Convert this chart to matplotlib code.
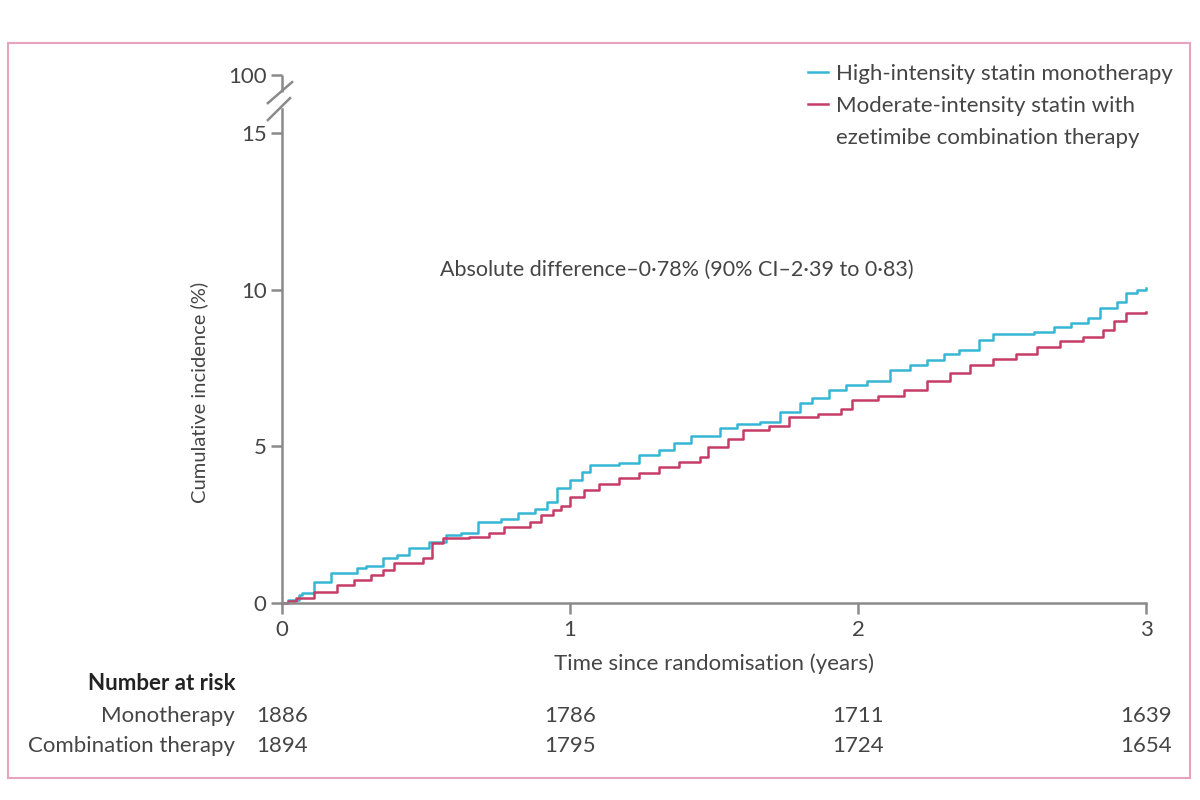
import matplotlib
matplotlib.use("Agg")
import matplotlib.pyplot as plt
from matplotlib.lines import Line2D
from matplotlib.patches import Rectangle
from matplotlib.transforms import blended_transform_factory

plt.rcParams['font.family'] = ['Lato', 'DejaVu Sans']

# ---- data ----
mono_t = [0, 0.02, 0.06, 0.07, 0.11, 0.17, 0.26, 0.29, 0.35, 0.40, 0.44, 0.51, 0.57, 0.62, 0.68,
          0.76, 0.82, 0.88, 0.92, 0.955, 1.0, 1.04, 1.07, 1.17, 1.24, 1.31, 1.36, 1.42, 1.52,
          1.58, 1.66, 1.73, 1.80, 1.84, 1.90, 1.96, 2.03, 2.11, 2.18, 2.24, 2.30, 2.35, 2.42,
          2.47, 2.61, 2.68, 2.74, 2.80, 2.84, 2.90, 2.93, 2.97, 3.0]
mono_y = [0, 0.1, 0.26, 0.32, 0.67, 0.95, 1.12, 1.2, 1.44, 1.55, 1.75, 1.95, 2.17, 2.25, 2.58,
          2.7, 2.87, 3.0, 3.22, 3.67, 3.92, 4.2, 4.4, 4.47, 4.72, 4.88, 5.1, 5.33, 5.6,
          5.7, 5.78, 6.1, 6.38, 6.54, 6.8, 6.95, 7.1, 7.43, 7.6, 7.75, 7.95, 8.07, 8.4,
          8.6, 8.64, 8.8, 8.93, 9.1, 9.4, 9.6, 9.9, 10.0, 10.05]
comb_t = [0, 0.02, 0.05, 0.11, 0.19, 0.25, 0.31, 0.35, 0.39, 0.49, 0.52, 0.56, 0.65, 0.72, 0.77,
          0.86, 0.90, 0.94, 0.97, 1.0, 1.05, 1.10, 1.17, 1.24, 1.31, 1.38, 1.45, 1.48, 1.55,
          1.60, 1.69, 1.76, 1.86, 1.94, 1.98, 2.07, 2.16, 2.24, 2.32, 2.39, 2.47, 2.55, 2.62,
          2.70, 2.78, 2.85, 2.89, 2.93, 3.0]
comb_y = [0, 0.07, 0.15, 0.35, 0.57, 0.75, 0.9, 1.05, 1.28, 1.44, 1.91, 2.07, 2.1, 2.25, 2.42,
          2.58, 2.8, 2.97, 3.1, 3.4, 3.6, 3.8, 4.0, 4.15, 4.34, 4.5, 4.66, 4.98, 5.25,
          5.52, 5.65, 5.93, 6.05, 6.2, 6.48, 6.6, 6.8, 7.1, 7.35, 7.6, 7.8, 7.95, 8.17,
          8.35, 8.5, 8.7, 9.0, 9.25, 9.28]

x_ticks = [0, 1, 2, 3]
y_ticks = [0, 5, 10, 15]
risk_times = [0, 1, 2, 3]
risk_mono = [1886, 1786, 1711, 1639]
risk_comb = [1894, 1795, 1724, 1654]

label_mono = "High-intensity statin monotherapy"
label_comb_1 = "Moderate-intensity statin with"
label_comb_2 = "ezetimibe combination therapy"
annotation = "Absolute difference\u20130\u00b778% (90% CI\u20132\u00b739 to 0\u00b783)"

blue = "#35b6d4"
red = "#c73c66"
gray_txt = "#454545"
spine_col = "#8a8a8a"
FS = 16

Y_TOP = 16.84   # position of the "100" tick (axis break)

fig = plt.figure(figsize=(12, 8), dpi=100)
ax = fig.add_axes([0.235, 0.246, 0.72, 0.66])

ax.plot(mono_t, mono_y, drawstyle='steps-post', color=blue, lw=1.8, clip_on=False)
ax.plot(comb_t, comb_y, drawstyle='steps-post', color=red, lw=1.8, clip_on=False)

ax.set_xlim(0, 3)
ax.set_ylim(0, Y_TOP)

for s in ['top', 'right']:
    ax.spines[s].set_visible(False)
for s in ['left', 'bottom']:
    ax.spines[s].set_color(spine_col)
    ax.spines[s].set_linewidth(1.8)
ax.spines['left'].set_bounds(0, 15.75)

ax.set_xticks(x_ticks)
ax.set_xticklabels([str(v) for v in x_ticks])
ax.set_yticks(y_ticks + [Y_TOP])
ax.set_yticklabels([str(v) for v in y_ticks] + ["100"])
ax.tick_params(axis='both', colors=spine_col, labelcolor=gray_txt, labelsize=FS,
               length=8, width=1.8, direction='out')
ax.tick_params(axis='x', pad=4)
ax.tick_params(axis='y', pad=3)

# axis break: upper spine segment and slashes
ax.plot([0, 0], [16.3, Y_TOP], color=spine_col, lw=1.8, clip_on=False,
        solid_capstyle='butt')
ax.plot([-0.049, 0.035], [15.95, 16.62], color=spine_col, lw=1.8, clip_on=False)
ax.plot([-0.049, 0.028], [15.41, 16.11], color=spine_col, lw=1.8, clip_on=False)

ax.set_xlabel("Time since randomisation (years)", fontsize=FS, color=gray_txt, labelpad=10)
ax.set_ylabel("Cumulative incidence (%)", fontsize=14.5, color=gray_txt)
ax.yaxis.set_label_coords(-0.086, 0.40)

ax.text(1.37, 10.62, annotation, fontsize=15.5, color=gray_txt, ha='center', va='center')

handles = [Line2D([], [], color=blue, lw=1.8),
           Line2D([], [], color=red, lw=1.8),
           Line2D([], [], color='none', lw=0)]
leg = ax.legend(handles, [label_mono, label_comb_1, label_comb_2], loc='upper left',
                bbox_to_anchor=(808 / 1200, 1 - 64 / 800), bbox_transform=fig.transFigure,
                frameon=False, fontsize=FS, borderpad=0, borderaxespad=0,
                handlelength=0.9, handletextpad=0.35, labelspacing=0.55,
                labelcolor=gray_txt)

# number at risk table
tr = blended_transform_factory(ax.transData, fig.transFigure)
fig.text(0.196, 1 - 683 / 800, "Number at risk", fontsize=FS, fontweight='bold',
         color="#222222", ha='right', va='center')
fig.text(0.196, 1 - 716 / 800, "Monotherapy", fontsize=FS, color=gray_txt,
         ha='right', va='center')
fig.text(0.196, 1 - 746 / 800, "Combination therapy", fontsize=FS, color=gray_txt,
         ha='right', va='center')
for t, m, c in zip(risk_times, risk_mono, risk_comb):
    ax.text(t, 1 - 716 / 800, str(m), transform=tr, fontsize=FS, color=gray_txt,
            ha='center', va='center')
    ax.text(t, 1 - 746 / 800, str(c), transform=tr, fontsize=FS, color=gray_txt,
            ha='center', va='center')

# pink border
fig.patches.append(Rectangle((8 / 1200, 1 - 778 / 800), 1182 / 1200, 735 / 800,
                             transform=fig.transFigure, fill=False,
                             edgecolor="#e7a3bd", lw=1.5))

fig.savefig("out.png", dpi=100)
